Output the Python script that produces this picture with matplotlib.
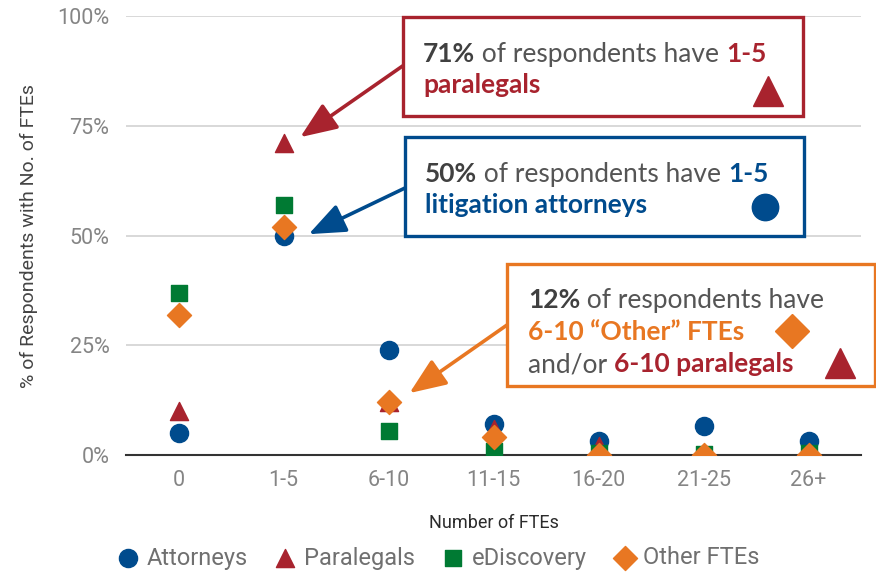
import matplotlib
matplotlib.use("Agg")
import matplotlib.pyplot as plt
from matplotlib.patches import Rectangle
from matplotlib.lines import Line2D

categories = ["0", "1-5", "6-10", "11-15", "16-20", "21-25", "26+"]
attorneys = [5, 50, 24, 7, 3.3, 6.7, 3.3]
paralegals = [10, 71, 12, 6, 2, 0, 0]
ediscovery = [37, 57, 5.5, 1, 0.5, 0.3, 0.5]
other_ftes = [32, 52, 12, 4, 0, 0, 0]
yticks = [0, 25, 50, 75, 100]
ytick_labels = ["0%", "25%", "50%", "75%", "100%"]

BLUE = "#004B8D"
RED = "#A8232E"
GREEN = "#007A33"
ORANGE = "#E87722"
DARK = "#404040"
GREY = "#555555"

W, H = 876, 573
fig = plt.figure(figsize=(W / 100, H / 100), dpi=100)
ax = fig.add_axes([126 / W, 1 - 455 / H, (861 - 126) / W, (455 - 16) / H])


def fp(px, py):
    # figure pixel (from top-left) -> figure fraction
    return px / W, 1 - py / H


x = list(range(len(categories)))
ax.scatter(x, attorneys, s=170, marker="o", color=BLUE, zorder=3, label="Attorneys")
ax.scatter(x, paralegals, s=170, marker="^", color=RED, zorder=4, label="Paralegals")
ax.scatter(x, ediscovery, s=140, marker="s", color=GREEN, zorder=5, label="eDiscovery")
ax.scatter(x, other_ftes, s=150, marker="D", color=ORANGE, zorder=6, label="Other FTEs")

ax.set_xlim(-0.5, len(categories) - 0.5)
ax.set_ylim(0, 100)
ax.set_xticks(x)
ax.set_xticklabels(categories)
ax.set_yticks(yticks)
ax.set_yticklabels(ytick_labels)
ax.tick_params(axis="x", length=0, labelsize=15.5, labelcolor="#858585", pad=11)
ax.tick_params(axis="y", length=0, labelsize=15.5, labelcolor="#858585", pad=12)
for lab in ax.get_xticklabels() + ax.get_yticklabels():
    lab.set_family("Roboto")
ax.grid(axis="y", color="#D6D6D6", lw=1.3, zorder=0)
ax.set_axisbelow(True)
for s in ["top", "right", "left"]:
    ax.spines[s].set_visible(False)
ax.spines["bottom"].set_color("#333333")
ax.spines["bottom"].set_linewidth(1.5)

ax.set_xlabel("Number of FTEs", family="Roboto", fontsize=13, color="#2b2b2b", labelpad=16)
ax.set_ylabel("% of Respondents with No. of FTEs", family="Roboto", fontsize=14,
              color="#444444", labelpad=14)

leg = fig.legend(*ax.get_legend_handles_labels(), loc="center", bbox_to_anchor=fp(439, 558),
                 ncol=4, frameon=False, prop={"family": "Roboto", "size": 17},
                 handlelength=0.8, handletextpad=0.4, columnspacing=1.2,
                 borderaxespad=0, borderpad=0)
for t in leg.get_texts():
    t.set_color("#707070")

# annotation boxes
boxes = [
    (403, 17, 803, 116, RED),
    (405, 137, 804, 236, BLUE),
    (507, 264, 875, 386, ORANGE),
]
for x0, y0, x1, y1, c in boxes:
    fx0, fy1 = fp(x0, y1)
    fx1, fy0 = fp(x1, y0)
    fig.add_artist(Rectangle((fx0, fy1), fx1 - fx0, fy0 - fy1, transform=fig.transFigure,
                             fill=True, facecolor="white", edgecolor=c, lw=2.4, zorder=10))

fig.canvas.draw()
renderer = fig.canvas.get_renderer()
FS = 19


def rich(px, py, pieces):
    cx = px
    for txt, color, weight in pieces:
        t = fig.text(*fp(cx, py), txt, color=color, fontweight=weight, family="Lato",
                     fontsize=FS, va="baseline", ha="left", zorder=11)
        bb = t.get_window_extent(renderer)
        cx += bb.width


rich(423, 62, [("71%", DARK, "bold"), (" of respondents have ", GREY, "normal"), ("1-5", RED, "bold")])
rich(423, 93, [("paralegals", RED, "bold")])
rich(425, 182, [("50%", DARK, "bold"), (" of respondents have ", GREY, "normal"), ("1-5", BLUE, "bold")])
rich(425, 213, [("litigation attorneys", BLUE, "bold")])
rich(528, 308, [("12%", DARK, "bold"), (" of respondents have", GREY, "normal")])
rich(528, 340, [("6-10 \u201cOther\u201d FTEs", ORANGE, "bold")])
rich(528, 372, [("and/or ", GREY, "normal"), ("6-10 paralegals", RED, "bold")])

box_markers = [
    (768, 91, "^", 22, RED),
    (765, 207, "o", 19, BLUE),
    (792, 331, "D", 17, ORANGE),
    (840, 363, "^", 21, RED),
]
for px, py, m, ms, c in box_markers:
    fig.add_artist(Line2D([fp(px, py)[0]], [fp(px, py)[1]], marker=m, ms=ms, color=c,
                          ls="none", transform=fig.transFigure, zorder=12))

# arrows
arrows = [
    ((404, 65), (1.16, 72.4), RED),
    ((405, 188), (1.24, 50.3), BLUE),
    ((507, 325), (2.2, 14.1), ORANGE),
]
for (sx, sy), tip, c in arrows:
    ax.annotate("", xy=tip, xycoords="data", xytext=fp(sx, sy), textcoords="figure fraction",
                arrowprops=dict(arrowstyle="-|>,head_length=1.6,head_width=0.65", color=c, lw=2.6,
                                mutation_scale=14, shrinkA=0, shrinkB=0),
                annotation_clip=False, zorder=9)

fig.savefig("out.png", dpi=100)
